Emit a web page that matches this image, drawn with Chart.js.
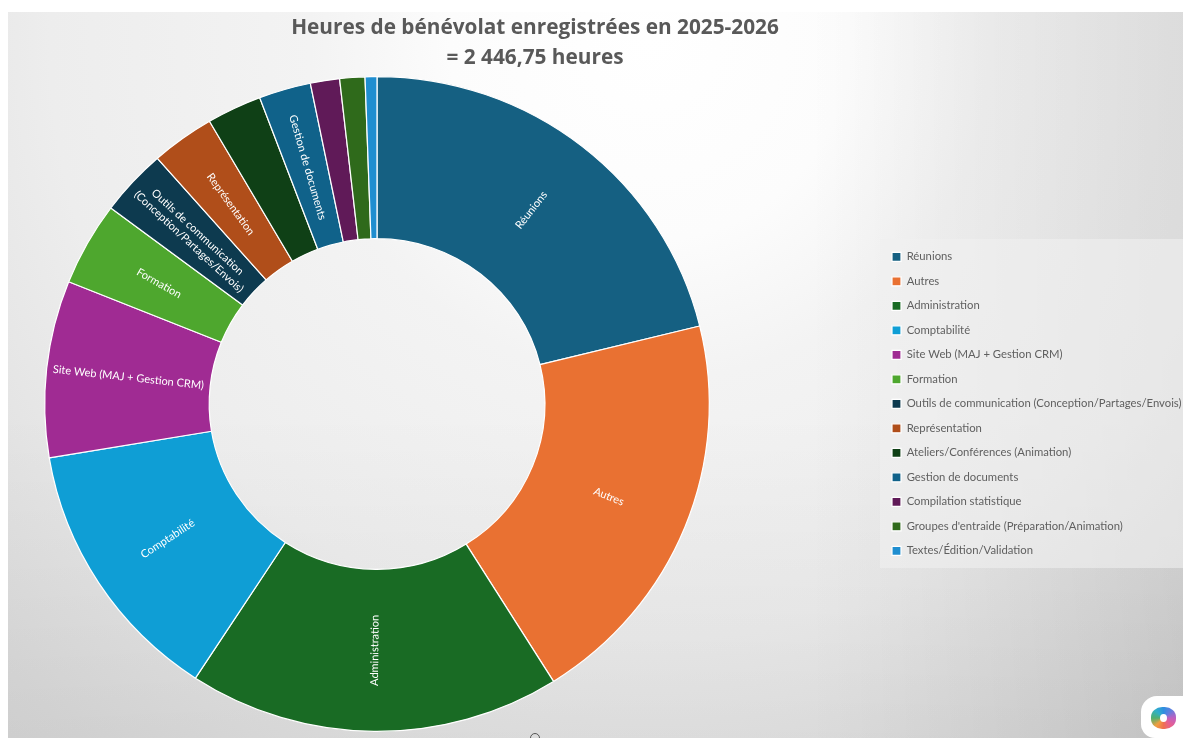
<!DOCTYPE html>
<html lang="fr">
<head>
<meta charset="utf-8">
<title>Heures de bénévolat</title>
<script src="https://cdn.jsdelivr.net/npm/chart.js@4/dist/chart.umd.min.js"></script>
<style>
html, body { margin: 0; padding: 0; width: 1183px; height: 738px; overflow: hidden; background: #fff; }
#bg { position: absolute; left: 8px; top: 12px; right: 0; bottom: 0;
      background:
        linear-gradient(270deg, rgba(0,0,0,.08) 0, rgba(0,0,0,0) 32%),
        linear-gradient(180deg, rgba(0,0,0,0) 55%, rgba(0,0,0,.05) 100%),
        radial-gradient(circle 1100px at 642px 28px, #ffffff 0, #fcfcfc 200px, #f3f3f3 340px, #ededed 600px, #dbdbdb 900px, #d2d2d2 1100px); }
#c { position: absolute; left: 0; top: 0; }
#ring { position: absolute; left: 530px; top: 733px; width: 8px; height: 8px; border: 1.5px solid #555; border-radius: 50%; }
#badge { position: absolute; left: 1141px; top: 696px; width: 42px; height: 42px; overflow: hidden; border-radius: 16px 0 0 14px; background: #fff; }
#badge i { position: absolute; left: 10px; top: 11px; width: 25px; height: 22px; border-radius: 45%;
           background: conic-gradient(#2f8fe0, #5f7fe0, #c060c0, #e85f90, #f07050, #f0a040, #50b070, #30b0c8, #2f8fe0); }
#badge b { position: absolute; left: 19px; top: 18px; width: 7px; height: 8px; border-radius: 50%; background: #fff; }
</style>
</head>
<body>
<div id="bg"></div>
<canvas id="c" width="1183" height="738"></canvas>
<div id="ring"></div>
<div id="badge"><i></i><b></b></div>
<script>
const titleLines = ['Heures de bénévolat enregistrées en 2025-2026', '= 2 446,75 heures'];
const categories = ['Réunions', 'Autres', 'Administration', 'Comptabilité', 'Site Web (MAJ + Gestion CRM)',
    'Formation', 'Outils de communication (Conception/Partages/Envois)', 'Représentation',
    'Ateliers/Conférences (Animation)', 'Gestion de documents', 'Compilation statistique',
    'Groupes d\'entraide (Préparation/Animation)', 'Textes/Édition/Validation'];
const hours = [518, 487.3, 443.2, 322.1, 213.4, 101, 80.6, 75.4, 65.3, 61.8, 34.7, 29.9, 14.05];
const colors = ['#156082', '#E97132', '#196B24', '#0F9ED5', '#A02B93', '#4EA72E', '#0D3A4F', '#B04E1A',
    '#0F4016', '#10628A', '#601A58', '#2F6A1B', '#1F8ED0'];
// text inside the slices, empty = no label on that slice
const sliceLabels = [['Réunions'], ['Autres'], ['Administration'], ['Comptabilité'], ['Site Web (MAJ + Gestion CRM)'],
    ['Formation'], ['Outils de communication', '(Conception/Partages/Envois)'], ['Représentation'],
    [], ['Gestion de documents'], [], [], []];

// the ring in the picture is a little wider than tall
const stretchX = 1.015;

// puts the ring, the title and the legend where the picture has them
const placeBoxes = {
    id: 'placeBoxes',
    afterLayout(chart) {
        chart.chartArea = { left: 49, top: 76, right: 705, bottom: 732, width: 656, height: 656 };
        chart.titleBlock.left = 0;
        chart.titleBlock.right = 1070;
        const lg = chart.legend;
        const w = lg.width, h = lg.height;
        lg.left = 878.8; lg.right = lg.left + w;
        lg.top = 238; lg.bottom = lg.top + h;
    },
    beforeDraw(chart) {
        const ctx = chart.ctx;
        ctx.save();
        ctx.fillStyle = 'rgba(240,240,240,0.6)';
        ctx.fillRect(880, 239, 303, 329);
        ctx.restore();
    },
    beforeDatasetsDraw(chart) {
        const ctx = chart.ctx;
        ctx.save();
        ctx.translate(377, 0);
        ctx.scale(stretchX, 1);
        ctx.translate(-377, 0);
    },
    afterDatasetsDraw(chart) {
        chart.ctx.restore();
    }
};

// labels turned along the radius of each slice
const sliceText = {
    id: 'sliceText',
    afterDraw(chart) {
        const ctx = chart.ctx;
        chart.getDatasetMeta(0).data.forEach((arc, i) => {
            const lines = sliceLabels[i];
            if (!lines.length) return;
            const p = arc.getCenterPoint();
            let deg = ((arc.startAngle + arc.endAngle) / 2 + Math.PI / 2) * 180 / Math.PI;
            deg = deg < 180 ? deg - 90 : deg - 270;
            ctx.save();
            ctx.translate(377 + (p.x - 377) * stretchX, p.y);
            ctx.rotate(deg * Math.PI / 180);
            ctx.fillStyle = '#fff';
            ctx.font = '11px Lato';
            ctx.textAlign = 'center';
            ctx.textBaseline = 'middle';
            lines.forEach((t, k) => ctx.fillText(t, 0, (k - (lines.length - 1) / 2) * 13));
            ctx.restore();
        });
    }
};

new Chart(document.getElementById('c'), {
    type: 'doughnut',
    data: {
        labels: categories,
        datasets: [{
            data: hours,
            backgroundColor: colors,
            borderColor: '#fff',
            borderWidth: 1.2
        }]
    },
    options: {
        responsive: false,
        animation: false,
        cutout: '50.5%',
        plugins: {
            title: {
                display: true,
                text: titleLines,
                color: '#595959',
                font: { family: '"Open Sans"', size: 20.8, weight: 'bold', lineHeight: 1.4 },
                padding: { top: 14, bottom: 5 }
            },
            legend: {
                position: 'right',
                align: 'start',
                labels: {
                    boxWidth: 9,
                    boxHeight: 9,
                    padding: 13.2,
                    color: '#5f5f5f',
                    font: { family: 'Lato', size: 11.3, lineHeight: 1.2 }
                }
            },
            tooltip: { enabled: false }
        }
    },
    plugins: [placeBoxes, sliceText]
});
</script>
</body>
</html>
